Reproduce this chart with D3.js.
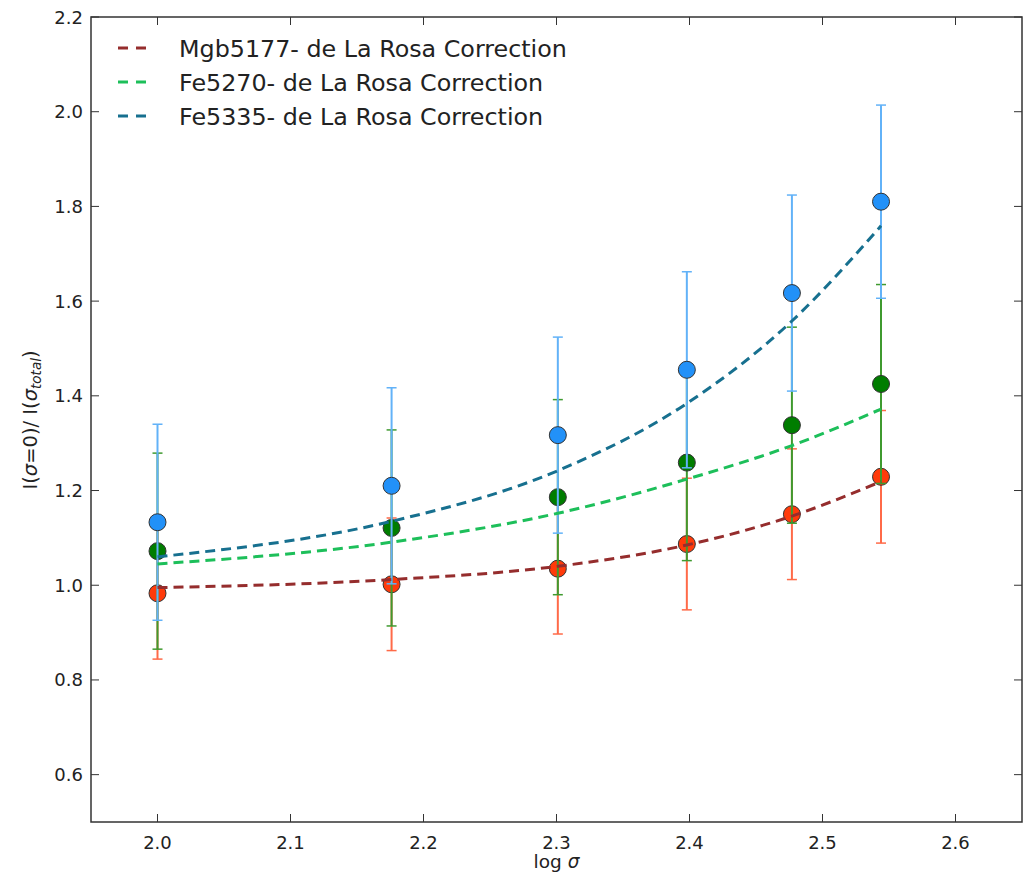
<!DOCTYPE html>
<html>
<head>
<meta charset="utf-8">
<title>de La Rosa correction</title>
<style>
  body { margin: 0; background: #fff; }
  svg { font-family: "DejaVu Sans", sans-serif; }
</style>
</head>
<body>
<script src="https://cdn.jsdelivr.net/npm/d3@7"></script>
<script>
// log sigma positions
var logSigma = [2.0, 2.176, 2.301, 2.398, 2.477, 2.544];

// measured ratios and errors
var mgb = [0.983, 1.002, 1.035, 1.087, 1.150, 1.229];
var mgbErr = [0.139, 0.140, 0.138, 0.139, 0.138, 0.140];
var fe5270 = [1.072, 1.121, 1.186, 1.259, 1.338, 1.425];
var fe5270Err = [0.207, 0.207, 0.206, 0.207, 0.207, 0.210];
var fe5335 = [1.133, 1.210, 1.317, 1.455, 1.617, 1.810];
var fe5335Err = [0.207, 0.207, 0.207, 0.207, 0.207, 0.204];

// de La Rosa correction curves
var mgbFit = [0.995, 1.012, 1.040, 1.085, 1.146, 1.219];
var fe5270Fit = [1.045, 1.091, 1.152, 1.224, 1.295, 1.372];
var fe5335Fit = [1.060, 1.135, 1.242, 1.384, 1.558, 1.759];

var xTicks = [2.0, 2.1, 2.2, 2.3, 2.4, 2.5, 2.6];
var yTicks = [0.6, 0.8, 1.0, 1.2, 1.4, 1.6, 1.8, 2.0, 2.2];

var legendNames = ["Mgb5177- de La Rosa Correction", "Fe5270- de La Rosa Correction", "Fe5335- de La Rosa Correction"];

var width = 1033, height = 877;
var pLeft = 91, pRight = 1022, pTop = 17, pBottom = 822;

var svg = d3.select("body").append("svg")
    .attr("width", width).attr("height", height);

var x = d3.scaleLinear().domain([1.95, 2.65]).range([pLeft, pRight]);
var y = d3.scaleLinear().domain([0.5, 2.2]).range([pBottom, pTop]);

// series: red, green, blue (blue on top)
var series = [
  { vals: mgb, err: mgbErr, fill: "#ff3a0a", bar: "#ff6a48", fit: mgbFit, line: "#952d2d" },
  { vals: fe5270, err: fe5270Err, fill: "#007d00", bar: "#3f9a2f", fit: fe5270Fit, line: "#1dbf5a" },
  { vals: fe5335, err: fe5335Err, fill: "#2291f8", bar: "#62b2f8", fit: fe5335Fit, line: "#17708f" }
];

var plot = svg.append("g");

series.forEach(function (s) {
  var g = plot.append("g");
  logSigma.forEach(function (lx, i) {
    var cx = x(lx);
    var y1 = y(s.vals[i] + s.err[i]), y0 = y(s.vals[i] - s.err[i]);
    g.append("line").attr("x1", cx).attr("x2", cx).attr("y1", y1).attr("y2", y0)
      .attr("stroke", s.bar).attr("stroke-width", 2);
    [y1, y0].forEach(function (cy) {
      g.append("line").attr("x1", cx - 5).attr("x2", cx + 5).attr("y1", cy).attr("y2", cy)
        .attr("stroke", s.bar).attr("stroke-width", 1.5);
    });
  });
  g.selectAll("circle").data(s.vals).enter().append("circle")
    .attr("cx", function (d, i) { return x(logSigma[i]); })
    .attr("cy", function (d) { return y(d); })
    .attr("r", 8.5)
    .attr("fill", s.fill)
    .attr("stroke", "#333")
    .attr("stroke-width", 1);
});

var line = d3.line()
  .x(function (d, i) { return x(logSigma[i]); })
  .y(function (d) { return y(d); })
  .curve(d3.curveMonotoneX);

series.forEach(function (s) {
  plot.append("path").datum(s.fit)
    .attr("d", line)
    .attr("fill", "none")
    .attr("stroke", s.line)
    .attr("stroke-width", 3)
    .attr("stroke-dasharray", "10,6");
});

// frame
svg.append("rect").attr("x", pLeft).attr("y", pTop)
  .attr("width", pRight - pLeft).attr("height", pBottom - pTop)
  .attr("fill", "none").attr("stroke", "#333").attr("stroke-width", 1.5);

// ticks (inward on all sides)
var tl = 8;
xTicks.forEach(function (t) {
  var px = x(t);
  svg.append("line").attr("x1", px).attr("x2", px).attr("y1", pBottom).attr("y2", pBottom - tl)
    .attr("stroke", "#333").attr("stroke-width", 1);
  svg.append("line").attr("x1", px).attr("x2", px).attr("y1", pTop).attr("y2", pTop + tl)
    .attr("stroke", "#333").attr("stroke-width", 1);
  svg.append("text").attr("x", px).attr("y", pBottom + 27)
    .attr("text-anchor", "middle").attr("font-size", 18).attr("fill", "#222")
    .text(d3.format(".1f")(t));
});
yTicks.forEach(function (t) {
  var py = y(t);
  svg.append("line").attr("x1", pLeft).attr("x2", pLeft + tl).attr("y1", py).attr("y2", py)
    .attr("stroke", "#333").attr("stroke-width", 1);
  svg.append("line").attr("x1", pRight).attr("x2", pRight - tl).attr("y1", py).attr("y2", py)
    .attr("stroke", "#333").attr("stroke-width", 1);
  svg.append("text").attr("x", pLeft - 8).attr("y", py + 6.5)
    .attr("text-anchor", "end").attr("font-size", 18).attr("fill", "#222")
    .text(d3.format(".1f")(t));
});

// axis labels
var xl = svg.append("text").attr("x", (pLeft + pRight) / 2).attr("y", 868)
  .attr("text-anchor", "middle").attr("font-size", 18.5).attr("fill", "#222");
xl.append("tspan").text("log ");
xl.append("tspan").attr("font-style", "italic").text("σ");

var yl = svg.append("text")
  .attr("transform", "translate(37,420) rotate(-90)")
  .attr("text-anchor", "middle").attr("font-size", 19.5).attr("fill", "#222");
yl.append("tspan").text("I(");
yl.append("tspan").attr("font-style", "italic").text("σ");
yl.append("tspan").text("=0)/ I(");
yl.append("tspan").attr("font-style", "italic").text("σ");
yl.append("tspan").attr("font-style", "italic").attr("font-size", 13.5).attr("dy", 4).text("total");
yl.append("tspan").attr("dy", -4).text(")");

// legend
legendNames.forEach(function (name, i) {
  var ly = 48 + i * 34;
  svg.append("line").attr("x1", 118).attr("x2", 152).attr("y1", ly).attr("y2", ly)
    .attr("stroke", series[i].line).attr("stroke-width", 3).attr("stroke-dasharray", "10,8");
  svg.append("text").attr("x", 179).attr("y", ly + 8.5)
    .attr("font-size", 23.8).attr("fill", "#222").text(name);
});
</script>
</body>
</html>
